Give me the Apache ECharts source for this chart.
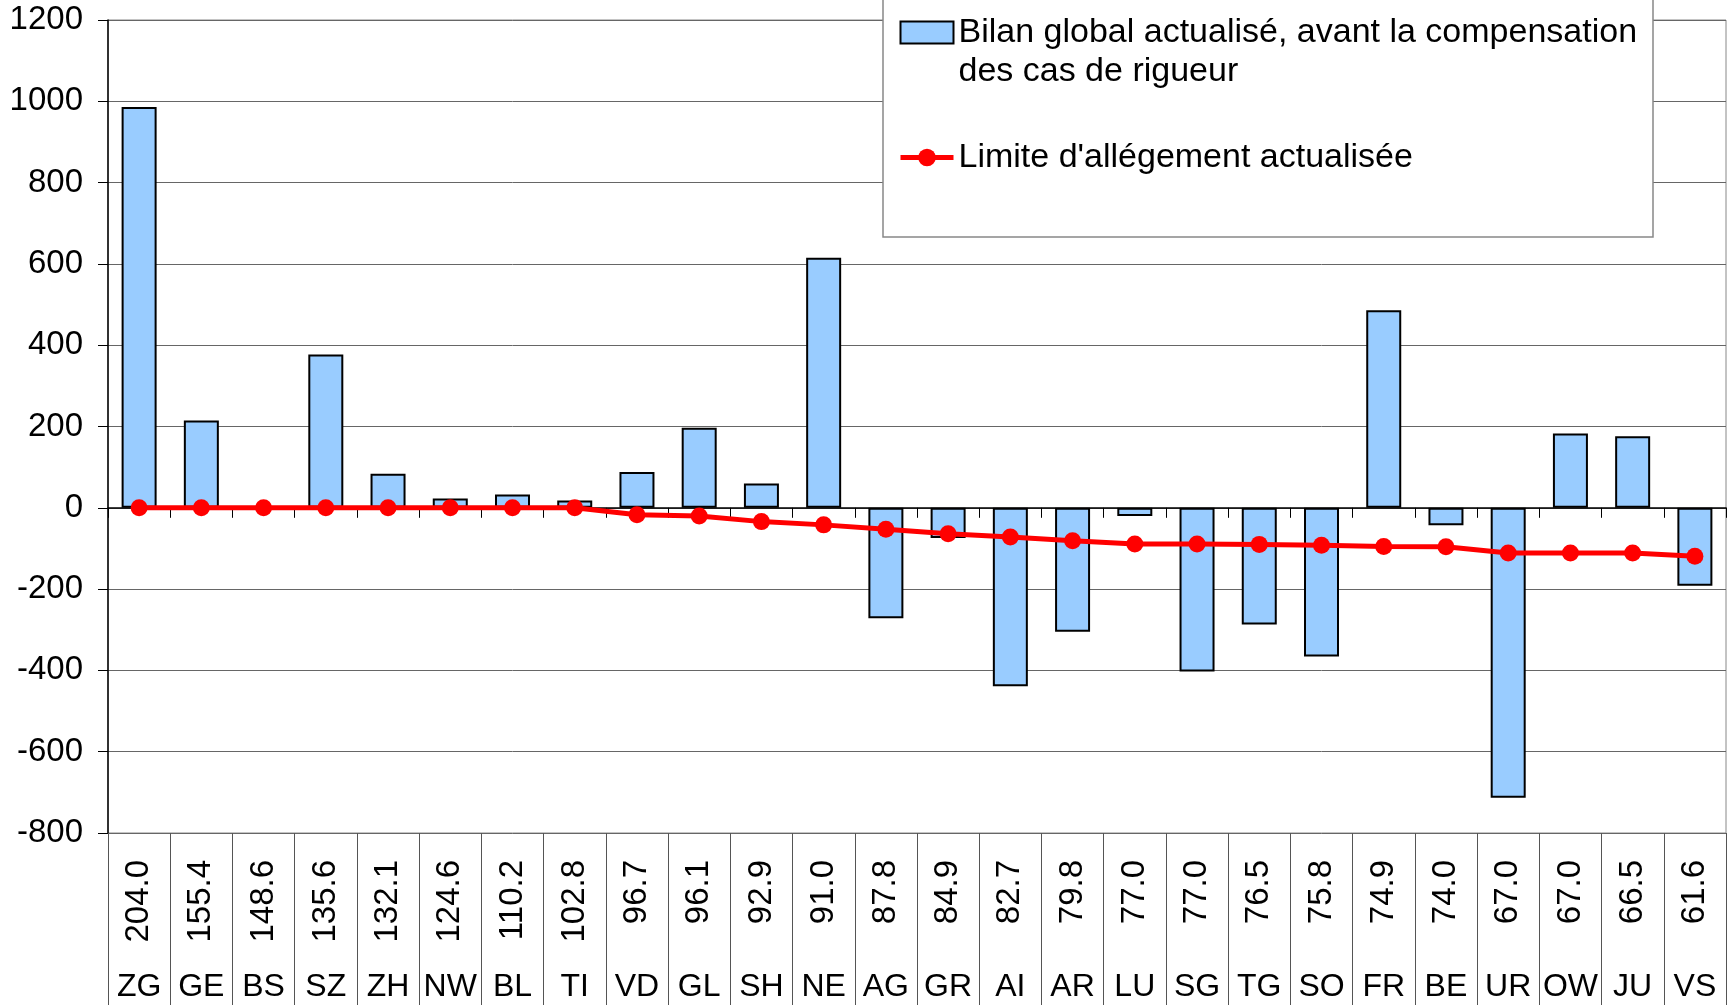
<!DOCTYPE html>
<html>
<head>
<meta charset="utf-8">
<script src="https://cdn.jsdelivr.net/npm/echarts@6/dist/echarts.min.js"></script>
<style>
html,body{margin:0;padding:0;background:#fff;}
#chart{width:1734px;height:1005px;}
</style>
</head>
<body>
<div id="chart"></div>
<script>
// cantons et indice des ressources
var cantons = ['ZG','GE','BS','SZ','ZH','NW','BL','TI','VD','GL','SH','NE','AG','GR','AI','AR','LU','SG','TG','SO','FR','BE','UR','OW','JU','VS'];
var indices = ['204.0','155.4','148.6','135.6','132.1','124.6','110.2','102.8','96.7','96.1','92.9','91.0','87.8','84.9','82.7','79.8','77.0','77.0','76.5','75.8','74.9','74.0','67.0','67.0','66.5','61.6'];
var bilan = [986, 215, -5, 377, 84, 23, 33, 18, 88, 197, 60, 615, -272, -74, -439, -305, -20, -403, -287, -366, 486, -43, -713, 183, 176, -192];
var limite = [0, 0, 0, 0, 0, 0, 0, 0, -17, -20, -34, -42, -53, -64, -72, -81, -89, -89, -90, -92, -95, -96, -111, -111, -111, -119];

var nomBilan = 'Bilan global actualisé, avant la compensation\ndes cas de rigueur';
var nomLimite = "Limite d'allégement actualisée";

var FONT = '"Liberation Sans", Arial, sans-serif';

var myChart = echarts.init(document.getElementById('chart'));

var option = {
    animation: false,
    textStyle: { fontFamily: FONT, color: '#000' },
    grid: {
        left: 108, right: 8, top: 20, bottom: 172,
        show: true, borderColor: '#888', borderWidth: 1, backgroundColor: 'transparent'
    },
    graphic: [
        {
            type: 'rect', z: 3,
            shape: { x: 883, y: -2, width: 770, height: 239 },
            style: { fill: '#fff', stroke: '#888', lineWidth: 1.5 }
        }
    ],
    legend: {
        orient: 'vertical',
        left: 898, top: -26,
        padding: 0,
        itemWidth: 53, itemHeight: 22,
        itemGap: 47,
        z: 5,
        textStyle: { fontFamily: FONT, fontSize: 34, lineHeight: 39, color: '#000' },
        lineStyle: { width: 5 },
        // la première entrée sur deux lignes, alignée sur l'icône
        formatter: function (name) {
            return name === nomBilan ? '\n' + name : name;
        },
        data: [
            { name: nomBilan, icon: 'rect' },
            { name: nomLimite }
        ]
    },
    xAxis: [
        {
            type: 'category',
            data: cantons,
            axisLine: { onZero: true, lineStyle: { color: '#000', width: 1.5 } },
            axisTick: { show: true, interval: 0, length: 10, lineStyle: { color: '#000' } },
            axisLabel: { show: false },
            splitLine: { show: false }
        },
        {
            type: 'category',
            position: 'bottom',
            data: indices,
            axisLine: { show: false, onZero: false },
            axisTick: { show: true, interval: 0, length: 172, lineStyle: { color: '#555' } },
            axisLabel: { interval: 0, rotate: 90, margin: 27, fontSize: 33, color: '#000', fontFamily: FONT },
            splitLine: { show: false }
        },
        {
            type: 'category',
            position: 'bottom',
            data: cantons,
            axisLine: { show: false, onZero: false },
            axisTick: { show: false },
            axisLabel: { interval: 0, margin: 138, fontSize: 32, color: '#000', fontFamily: FONT },
            splitLine: { show: false }
        }
    ],
    yAxis: {
        type: 'value',
        min: -800, max: 1200, interval: 200,
        axisLine: { show: true, lineStyle: { color: '#000', width: 1.5 } },
        axisTick: { show: true, length: 10, lineStyle: { color: '#000' } },
        axisLabel: {
            fontSize: 33, margin: 25, color: '#000', fontFamily: FONT,
            formatter: function (v) { return String(v); }
        },
        splitLine: { show: true, lineStyle: { color: '#666', width: 1 } }
    },
    series: [
        {
            name: nomBilan,
            type: 'bar',
            data: bilan,
            barWidth: 35,
            itemStyle: { color: '#99CCFF', borderColor: '#000', borderWidth: 2 }
        },
        {
            name: nomLimite,
            type: 'line',
            data: limite,
            z: 4,
            symbol: 'circle',
            symbolSize: 17,
            lineStyle: { color: '#FF0000', width: 5 },
            itemStyle: { color: '#FF0000' }
        }
    ]
};

myChart.setOption(option);
</script>
</body>
</html>
